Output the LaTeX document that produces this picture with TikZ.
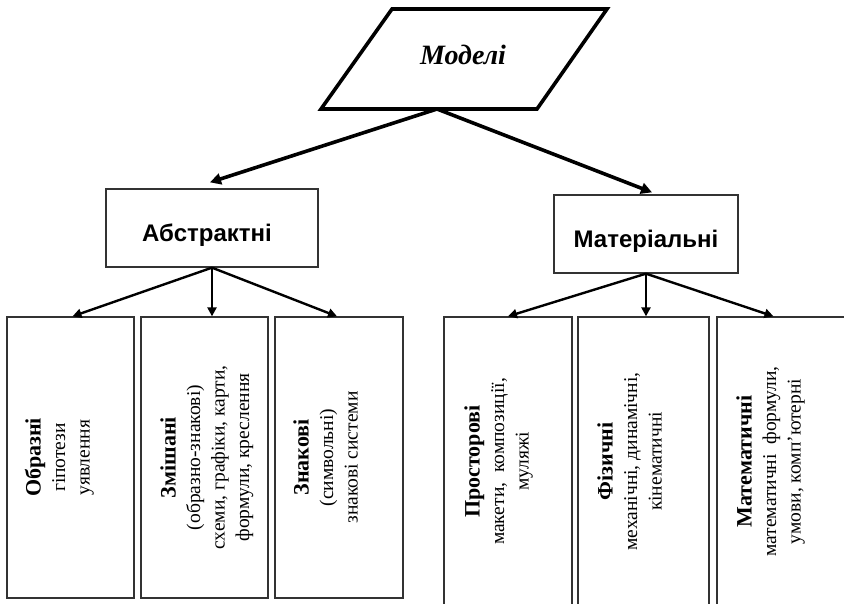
\documentclass[tikz,border=0pt]{standalone}
\usepackage{fontspec}
\setmainfont{Liberation Serif}
\newfontfamily\arialf{Liberation Sans}
\usetikzlibrary{arrows.meta,calc}
\newcommand{\hd}[1]{\rule{0pt}{17pt}{\fontsize{22}{24.5}\selectfont\bfseries #1}}
\begin{document}
\begin{tikzpicture}[x=1pt,y=-1pt,
  cell/.style={draw=black!80, line width=1.3pt, inner sep=0pt},
  mid/.style={cell, minimum height=78pt, text height=31pt, text depth=5pt, font=\arialf\fontsize{24}{28}\selectfont\bfseries},
  vtext/.style={rotate=90, anchor=north, align=center, inner sep=0pt, font=\fontsize{19.5}{24.5}\selectfont},
  bigarrow/.style={line width=3.6pt, -{Triangle[length=11pt,width=11pt]}},
  smallarrow/.style={line width=2.4pt, -{Triangle[length=9pt,width=9pt]}},
  ]
\useasboundingbox (0,0) rectangle (844,603);
% top parallelogram
\draw[line width=3.6pt] (392,9) -- (607,9) -- (537,109) -- (321,109) -- cycle;
\node[font=\fontsize{28}{32}\selectfont\bfseries\itshape] (mod) at (463,55) {Моделі};
\coordinate (mbot) at (437,109);
% middle level
\node[mid, minimum width=212pt] (abs) at (212,228) {\hspace*{-10pt}Абстрактні};
\node[mid, minimum width=184pt] (mat) at (646,234) {Матеріальні};
% bottom boxes
\node[cell, minimum width=127pt, minimum height=281pt] (b1) at (70.5,457.5) {};
\node[cell, minimum width=127pt, minimum height=281pt] (b2) at (204.5,457.5) {};
\node[cell, minimum width=128pt, minimum height=281pt] (b3) at (339,457.5) {};
\node[cell, minimum width=128pt, minimum height=289pt] (b4) at (508,461.5) {};
\node[cell, minimum width=131pt, minimum height=289pt] (b5) at (643.5,461.5) {};
\node[cell, minimum width=131pt, minimum height=289pt] (b6) at (782.5,461.5) {};
% texts
\node[vtext] (t1) at ([xshift=17pt]b1.west) {\hd{Образні}\\гіпотези\\уявлення};
\node[vtext] (t2) at ([xshift=18pt]b2.west) {\hd{Змішані}\\(образно-знакові)\\схеми, графіки, карти,\\формули, креслення};
\node[vtext] (t3) at ([xshift=17pt]b3.west) {\hd{Знакові}\\(символьні)\\знакові системи};
\node[vtext] (t4) at ([xshift=19pt]b4.west) {\hd{Просторові}\\макети,\ \ композиції,\\муляжі};
\node[vtext] (t5) at ([xshift=18pt]b5.west) {\hd{Фізичні}\\механічні, динамічні,\\кінематичні};
\node[vtext] (t6) at ([xshift=18pt]b6.west) {\hd{Математичні}\\математичні\ \ формули,\\умови, комп’ютерні};
% arrows
\draw[bigarrow] (mbot) -- ([xshift=-2pt,yshift=6pt]abs.north);
\draw[bigarrow] (mbot) -- ([xshift=6pt,yshift=2pt]mat.north);
\draw[smallarrow] (abs.south) -- ([xshift=2pt]b1.north);
\draw[smallarrow] (abs.south) -- (abs.south |- b2.north);
\draw[smallarrow] (abs.south) -- ([xshift=-2pt]b3.north);
\draw[smallarrow] (mat.south) -- (b4.north);
\draw[smallarrow] (mat.south) -- (mat.south |- b5.north);
\draw[smallarrow] (mat.south) -- ([xshift=-9pt]b6.north);
\end{tikzpicture}
\end{document}
